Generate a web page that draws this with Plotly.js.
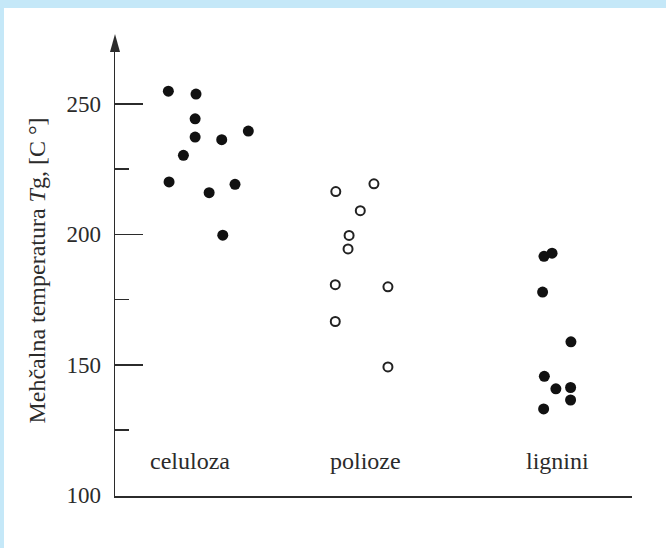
<!DOCTYPE html>
<html>
<head>
<meta charset="utf-8">
<script src="https://cdn.plot.ly/plotly-3.0.1.min.js"></script>
<style>
  html, body { margin: 0; padding: 0; background: #ffffff; }
  #wrap { position: relative; width: 666px; height: 548px; }
  #chart { width: 666px; height: 548px; }
  .strip { position: absolute; background: #c5e8f8; pointer-events: none; }
</style>
</head>
<body>
<div id="wrap">
  <div id="chart"></div>
  <div class="strip" style="left:0;top:0;width:666px;height:8px;"></div>
  <div class="strip" style="left:0;top:0;width:4px;height:548px;"></div>
</div>
<script>
// Category labels and their positions on the x axis
var categories = ["celuloza", "polioze", "lignini"];
var categoryX = [1, 2, 3.1];

// celuloza (filled dots)
var celulozaX = [0.876, 1.034, 1.029, 1.029, 1.181, 1.333, 0.962, 0.880, 1.257, 1.109, 1.187];
var celulozaY = [254.9, 253.8, 244.3, 237.3, 236.3, 239.6, 230.3, 220.1, 219.2, 216.0, 199.7];

// polioze (open circles)
var poliozeX = [1.833, 2.051, 1.973, 1.909, 1.903, 1.830, 2.131, 1.830, 2.131];
var poliozeY = [216.4, 219.4, 209.1, 199.6, 194.4, 180.7, 179.9, 166.6, 149.2];

// lignini (filled dots)
var ligniniX = [3.023, 3.069, 3.015, 3.177, 3.025, 3.091, 3.175, 3.175, 3.021];
var ligniniY = [191.6, 192.8, 177.9, 158.8, 145.6, 140.8, 141.3, 136.5, 133.1];

var yTicks = [100, 150, 200, 250];

var traces = [
  {
    x: celulozaX, y: celulozaY, type: "scatter", mode: "markers", name: categories[0],
    marker: { symbol: "circle", size: 11, color: "#111111" }
  },
  {
    x: poliozeX, y: poliozeY, type: "scatter", mode: "markers", name: categories[1],
    marker: { symbol: "circle-open", size: 9, color: "#222222", line: { width: 2, color: "#222222" } }
  },
  {
    x: ligniniX, y: ligniniY, type: "scatter", mode: "markers", name: categories[2],
    marker: { symbol: "circle", size: 11, color: "#111111" }
  }
];

var fontFam = "'Liberation Serif', 'Times New Roman', serif";
var ink = "#2b2b2b";

var catAnnotations = categories.map(function (c, i) {
  return {
    x: categoryX[i], xref: "x", y: 0, yref: "paper",
    yanchor: "middle", yshift: 35,
    text: c, showarrow: false,
    font: { family: fontFam, size: 24, color: ink }
  };
});

var layout = {
  width: 666, height: 548,
  margin: { l: 115, r: 34, t: 45, b: 52 },
  paper_bgcolor: "#ffffff", plot_bgcolor: "#ffffff",
  showlegend: false,
  font: { family: fontFam, color: ink, size: 22 },
  xaxis: {
    range: [0.571, 3.526],
    showticklabels: false,
    ticks: "", showgrid: false, zeroline: false,
    showline: true, linecolor: ink, linewidth: 1.5
  },
  yaxis: {
    range: [99.7, 272.6],
    tickmode: "array", tickvals: yTicks,
    ticks: "inside", ticklen: 28, tickwidth: 1.5, tickcolor: ink,
    minor: { dtick: 25, ticks: "inside", ticklen: 14, tickwidth: 1.5, tickcolor: ink, showgrid: false },
    showgrid: false, zeroline: false,
    showline: true, linecolor: ink, linewidth: 1.5,
    ticklabelstandoff: 8,
    tickfont: { family: fontFam, size: 23, color: ink },
    title: {
      text: "Mehčalna temperatura <i>T</i>g, [C °]",
      font: { family: fontFam, size: 24, color: ink },
      standoff: 14
    }
  },
  annotations: catAnnotations,
  shapes: [
    {
      type: "path", xref: "paper", yref: "paper",
      xsizemode: "pixel", ysizemode: "pixel",
      xanchor: 0, yanchor: 1,
      path: "M -5,-7 L 5,-7 L 0,11 Z",
      fillcolor: ink, line: { width: 0 }
    }
  ]
};

Plotly.newPlot("chart", traces, layout, { displayModeBar: false, staticPlot: true });
</script>
</body>
</html>
